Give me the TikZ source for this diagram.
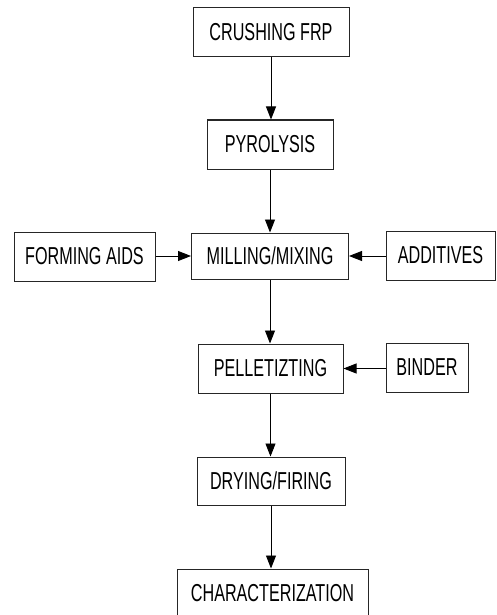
\documentclass[tikz,border=0pt]{standalone}
\usepackage{fontspec}
\setmainfont[FakeStretch=0.66]{Liberation Sans}
\usetikzlibrary{arrows.meta}

\tikzstyle{stage} = [draw=black!85, line width=1pt, inner sep=0pt, minimum height=49pt, font=\fontsize{24.5}{26}\selectfont]
\tikzstyle{flow}  = [line width=0.9pt, -{Triangle[length=13pt,width=10pt]}]

\begin{document}
\begin{tikzpicture}[x=1pt, y=-1pt]
    \useasboundingbox (0,0) rectangle (496,615);
    % main line
    \node[stage, minimum width=156pt] (crush)  at (271,32)    {CRUSHING FRP};
    \node[stage, minimum width=126pt] (pyro)   at (270,144.5) {PYROLYSIS};
    \node[stage, minimum width=157pt, minimum height=46pt] (mill) at (270,256) {MILLING/MIXING};
    \node[stage, minimum width=145pt] (pellet) at (270.5,368.5) {PELLETIZTING};
    \node[stage, minimum width=148pt, minimum height=48pt] (dry) at (271,481) {DRYING/FIRING};
    \node[stage, minimum width=191pt] (char)   at (272.5,593.5) {CHARACTERIZATION};
    % side inputs
    \node[stage, minimum width=141pt] (aids)   at (84.5,256.5) {FORMING AIDS};
    \node[stage, minimum width=109pt] (add)    at (440.5,255.5) {ADDITIVES};
    \node[stage, minimum width=82pt]  (binder) at (427,367.5) {BINDER};

    \draw[flow] (crush.south) -- (crush.south |- pyro.north);
    \draw[flow] (pyro.south) -- (pyro.south |- mill.north);
    \draw[flow] (mill.south) -- (mill.south |- pellet.north);
    \draw[flow] (pellet.south) -- (pellet.south |- dry.north);
    \draw[flow] (dry.south) -- (dry.south |- char.north);
    \draw[flow] (aids.east |- mill.west) -- (mill.west);
    \draw[flow] (add.west |- mill.east) -- (mill.east);
    \draw[flow] (binder.west |- pellet.east) -- (pellet.east);
\end{tikzpicture}
\end{document}
